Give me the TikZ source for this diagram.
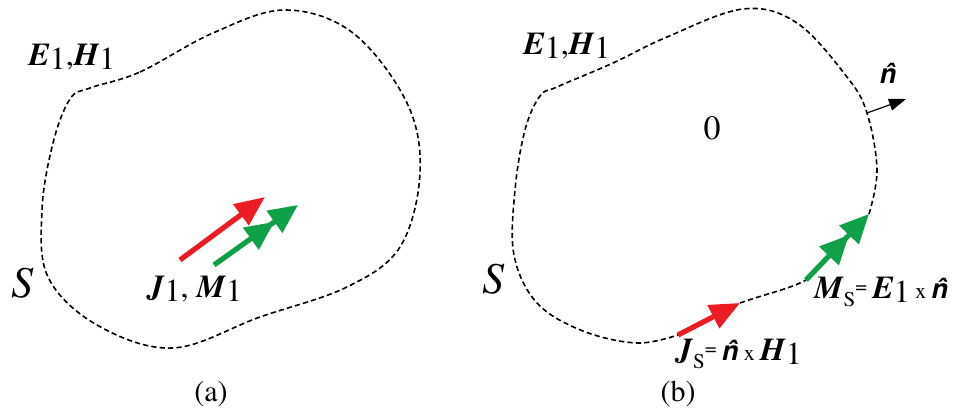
\documentclass[tikz,border=0pt]{standalone}
\usepackage{fontspec}
\setmainfont{texgyretermes}[Extension=.otf, UprightFont=*-regular, BoldFont=*-bold,
    ItalicFont=*-italic, BoldItalicFont=*-bolditalic]
\setsansfont{TeX Gyre Heros}
\definecolor{jred}{RGB}{237, 28, 36}
\definecolor{mgreen}{RGB}{16, 160, 72}
\usetikzlibrary{arrows.meta}

\newcommand{\bvec}[1]{\textbf{\textit{#1}}}
\newcommand{\sub}[1]{\raisebox{-1.8pt}{#1}}
\newcommand{\ssub}{\raisebox{-3.8pt}{\fontsize{10.5}{11}\selectfont S}\raisebox{2.4pt}{\fontsize{10.5}{11}\selectfont =}}
\newcommand{\nhat}{{\fontsize{13.5}{15}\selectfont\sffamily\bfseries\itshape\^{n}}}
\newcommand{\crossx}{{\fontsize{11}{12}\selectfont x}}

\begin{document}
\begin{tikzpicture}[x=0.5pt, y=-0.5pt,
    surface/.style={dash pattern=on 2.6pt off 1.6pt, line width=0.8pt},
    jarrow/.style={jred, line width=2.6pt, -{Triangle[length=15pt, width=12.5pt]}},
    marrow/.style={mgreen, line width=2.6pt,
        -{Triangle[length=14.5pt, width=13pt, sep=0pt]Triangle[length=14.5pt, width=13pt]}},
    lbl/.style={font=\fontsize{16}{19}\selectfont, inner sep=0pt}]
    \useasboundingbox (0,0) rectangle (955,410);

    % (a) sources inside S
    \draw[surface] plot[smooth cycle, tension=0.6] coordinates {
        (90,88) (140,72) (213,33) (285,10) (353,33) (407,103) (420,173)
        (400,247) (347,287) (260,317) (173,348) (97,325) (48,277)
        (42,210) (53,143) (70,99)};
    \coordinate (ja) at (180,260);
    \coordinate (jb) at (265,197);
    \coordinate (ma) at (214,265);
    \coordinate (mb) at (298,205);
    \draw[jarrow] (ja) -- (jb);
    \draw[marrow] (ma) -- (mb);

    \node[lbl] (fieldsa) at (72,57) {\bvec{E}\sub{1},\bvec{H}\sub{1}};
    \node[lbl] (srca) at (195,289) {\bvec{J}\sub{1}, \bvec{M}\sub{1}};
    \node[font=\fontsize{22}{24}\selectfont\itshape, inner sep=0pt] (sa) at (22,283) {S};
    \node[font=\fontsize{15}{18}\selectfont, inner sep=0pt] (capa) at (211,394) {(a)};

    % (b) equivalent surface currents, zero field inside
    \coordinate (js) at (678,335);
    \coordinate (jt) at (740,303);
    \coordinate (ms) at (806,280);
    \coordinate (mt) at (869,214);
    \coordinate (nfoot) at (867,113);
    \draw[surface] plot[smooth, tension=0.6] coordinates {
        (mt) (877,170) (nfoot) (847,77) (797,23) (743,9) (667,37) (613,63)
        (557,87) (540,96) (525,130) (515,190) (514,255) (537,303) (583,331)
        (637,343) (js)};
    \draw[surface] (jt) .. controls (765,294) and (790,289) .. (ms);
    \draw[jarrow] (js) -- (jt);
    \draw[marrow] (ms) -- (mt);
    \coordinate (ntip) at (906,99);
    \draw[line width=0.6pt, -{Triangle[length=8.5pt, width=6pt]}] (nfoot) -- (ntip);

    \node[lbl] (fieldsb) at (567,46) {\bvec{E}\sub{1},\bvec{H}\sub{1}};
    \node[inner sep=0pt] (nlab) at (888,73) {\nhat};
    \node[font=\fontsize{17}{20}\selectfont, inner sep=0pt] (zero) at (712,128) {0};
    \node[lbl, anchor=west] (mslab) at (814,292) {\bvec{M}\ssub\,\bvec{E}\sub{1}\,\crossx\,\nhat};
    \node[lbl, anchor=west] (jslab) at (676,354) {\bvec{J}\ssub\,\nhat\,\crossx\,\bvec{H}\sub{1}};
    \node[font=\fontsize{22}{24}\selectfont\itshape, inner sep=0pt] (sb) at (493,279) {S};
    \node[font=\fontsize{15}{18}\selectfont, inner sep=0pt] (capb) at (678,394) {(b)};
\end{tikzpicture}
\end{document}
